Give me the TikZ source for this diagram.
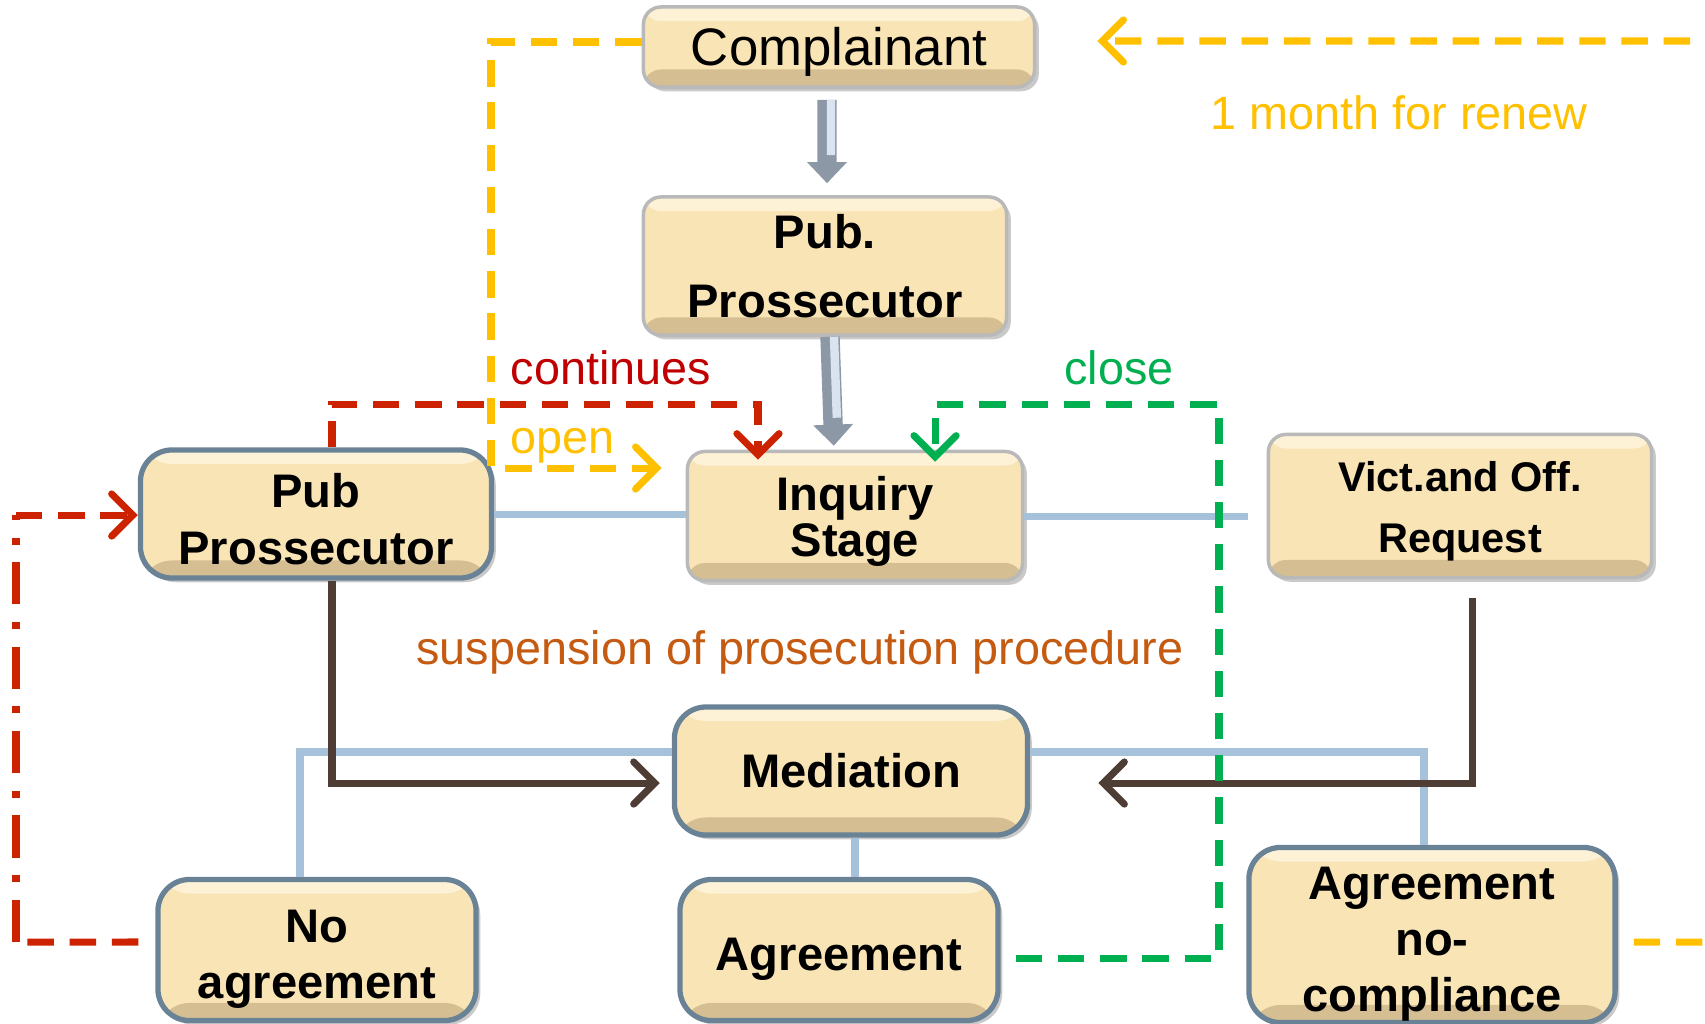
\documentclass[tikz,border=0pt]{standalone}
\usepackage{fontspec}
\setmainfont{Liberation Sans}
\usetikzlibrary{arrows.meta,calc,shadows}

\definecolor{boxfill}{RGB}{249,228,182}
\definecolor{boxtop}{RGB}{253,242,214}
\definecolor{boxbevel}{RGB}{212,190,146}
\definecolor{rimlight}{RGB}{185,185,185}
\definecolor{rimdark}{RGB}{106,130,150}
\definecolor{linkblue}{RGB}{165,194,218}
\definecolor{flowbrown}{RGB}{78,61,53}
\definecolor{renewgold}{RGB}{255,192,0}
\definecolor{contred}{RGB}{204,34,0}
\definecolor{contlabel}{RGB}{192,0,0}
\definecolor{closegreen}{RGB}{0,176,80}
\definecolor{suspbrown}{RGB}{197,90,17}
\definecolor{feedgrey}{RGB}{140,152,166}
\definecolor{feedlight}{RGB}{218,228,240}

% pushes a box text a little down
\newcommand{\droptext}[1]{\rule{0pt}{#1}}

\tikzset{
  base box/.style={fill=boxfill, align=center, inner sep=0pt,
    font=\bfseries\fontsize{13.4}{16.3}\selectfont,
    drop shadow={shadow xshift=1.2pt, shadow yshift=-1.2pt, opacity=.3, fill=black!70},
    path picture={
      \fill[boxbevel] (path picture bounding box.south west) rectangle ([yshift=5pt]path picture bounding box.south east);
      \fill[boxtop] (path picture bounding box.north west) rectangle ([yshift=-4pt]path picture bounding box.north east);}},
  light box/.style={base box, rounded corners=5pt, draw=rimlight, line width=1pt},
  dark box/.style={base box, rounded corners=9pt, draw=rimdark, line width=1.5pt},
  feed arrow/.style={line width=5.5pt, draw=feedgrey, -{Triangle[length=6pt,width=11pt]}},
  feed shine/.style={line width=2.4pt, draw=feedlight},
  link/.style={draw=linkblue, line width=2pt},
  flow/.style={draw=flowbrown, line width=2pt, ->},
  renew line/.style={draw=renewgold, line width=2pt, dash pattern=on 7.5pt off 4.5pt},
  cont line/.style={draw=contred, line width=2pt, dash pattern=on 7.5pt off 4.5pt},
  close line/.style={draw=closegreen, line width=2pt, dash pattern=on 7.5pt off 4.5pt},
  tag/.style={font=\fontsize{13.3}{16}\selectfont, inner sep=1pt},
}

\begin{document}
\begin{tikzpicture}[x=0.01cm, y=-0.01cm, >={Straight Barb[length=6pt,width=12pt,line cap=round]}]
\useasboundingbox (0,0) rectangle (1705,1023);
\clip (0,0) rectangle (1705,1023);

% boxes
\node [light box, minimum width=3.91cm, minimum height=0.80cm, font=\fontsize{15}{18}\selectfont] (complainant) at (839,47) {\droptext{13.5pt}Complainant};
\node [light box, minimum width=3.63cm, minimum height=1.38cm, font=\bfseries\fontsize{13.4}{19.6}\selectfont] (pubtop) at (825,266) {Pub.\\Prossecutor};
\node [light box, minimum width=3.35cm, minimum height=1.29cm, font=\bfseries\fontsize{13.4}{13}\selectfont] (inquiry) at (855,516) {\droptext{12.6pt}Inquiry\\Stage};
\node [light box, minimum width=3.83cm, minimum height=1.43cm, font=\bfseries\fontsize{11.8}{17.3}\selectfont] (request) at (1460,506) {\droptext{11.4pt}Vict.and Off.\\Request};
\node [dark box, minimum width=3.51cm, minimum height=1.28cm] (publeft) at (316,514) {\droptext{12.6pt}Pub\\Prossecutor};
\node [dark box, minimum width=3.53cm, minimum height=1.28cm] (mediation) at (851,771) {Mediation};
\node [dark box, minimum width=3.18cm, minimum height=1.41cm, font=\bfseries\fontsize{13.4}{16}\selectfont] (noagr) at (317,950) {\droptext{14.4pt}No\\agreement};
\node [dark box, minimum width=3.18cm, minimum height=1.41cm] (agreement) at (839,950) {\droptext{14.4pt}Agreement};
\node [dark box, minimum width=3.66cm, minimum height=1.75cm, font=\bfseries\fontsize{13.4}{16}\selectfont] (nocomp) at (1432,935) {\droptext{14.4pt}Agreement\\no-\\compliance};

% labels
\node [tag, text=renewgold] (renew) at (1399,113) {1 month for renew};
\node [tag, text=contlabel] (continues) at (611,368) {continues};
\node [tag, text=closegreen] (close) at (1119,368) {close};
\node [tag, text=renewgold] (open) at (563,446) {open};
\node [tag, text=suspbrown] (suspension) at (800,652) {suspension of prosecution procedure};

% turning points
\coordinate (openturn) at (491,468);
\coordinate (contturn) at (758,404);
\coordinate (closeturn) at (1219,404);
\coordinate (renewedge) at (1760,942);
\coordinate (retlow) at (16,942);
\coordinate (rethigh) at (16,515);

% main line
\draw [feed arrow, shorten <=0.11cm, shorten >=0.12cm] ([xshift=-0.12cm]complainant.south) -- ([xshift=0.02cm]pubtop.north);
\draw [feed shine, shorten <=0.11cm, shorten >=0.40cm] ([xshift=-0.08cm]complainant.south) -- ([xshift=0.06cm]pubtop.north);
\draw [feed arrow, shorten >=0.04cm] ([xshift=0.05cm]pubtop.south) -- ([xshift=-0.21cm]inquiry.north);
\draw [feed shine, shorten >=0.32cm] ([xshift=0.09cm]pubtop.south) -- ([xshift=-0.17cm]inquiry.north);

% blue links
\draw [link] (publeft.east) -- (publeft.east -| inquiry.west);
\draw [link, shorten >=0.19cm] (inquiry.east) -- (inquiry.east -| request.west);
\draw [link] ([yshift=0.19cm]mediation.west) -| ([xshift=-0.17cm]noagr.north);
\draw [link] ([yshift=0.19cm]mediation.east) -| ([xshift=-0.08cm]nocomp.north);
\draw [link] ([xshift=0.04cm]mediation.south) -- ([xshift=0.04cm]mediation.south |- agreement.north);

% suspension flows
\draw [flow, shorten >=0.12cm] ([xshift=0.16cm]publeft.south) |- ([yshift=-0.12cm]mediation.west);
\draw [flow, shorten <=0.19cm, shorten >=0.68cm] ([xshift=0.12cm]request.south) |- ([yshift=-0.12cm]mediation.east);

% dashed loops
\draw [renew line, ->, shorten >=0.24cm] ([yshift=0.05cm]complainant.west) -| (openturn) -- (openturn -| inquiry.west);
\draw [renew line, ->, shorten <=0.16cm, shorten >=0.61cm] ([yshift=-0.07cm]nocomp.east) -- (renewedge) |- ([yshift=0.06cm]complainant.east);
\draw [cont line, ->, shorten >=-0.1cm] ([xshift=0.16cm]publeft.north) |- (contturn) -- (contturn |- inquiry.north);
\draw [close line, ->, shorten <=0.15cm, shorten >=-0.12cm] ([yshift=-0.08cm]agreement.east) -| (closeturn) -| ([xshift=0.80cm]inquiry.north);
\draw [cont line, shorten <=0.17cm] ([yshift=0.08cm]noagr.west) -- (retlow);
\draw [cont line, dash pattern=on 12pt off 5pt on 2pt off 5pt] (retlow) -- (rethigh);
\draw [cont line, ->] (rethigh) -- (rethigh -| publeft.west);
\end{tikzpicture}
\end{document}
